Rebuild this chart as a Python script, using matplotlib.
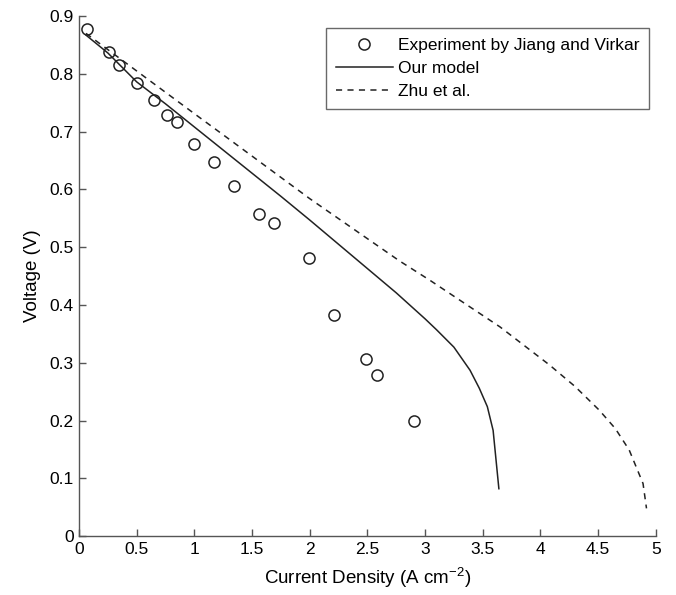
import numpy as np
import matplotlib
matplotlib.use("Agg")
import matplotlib.pyplot as plt

plt.rcParams['font.family'] = ['Liberation Sans', 'DejaVu Sans']

# experiment by Jiang and Virkar
exp_x = [0.07, 0.26, 0.35, 0.50, 0.65, 0.76, 0.85, 1.00, 1.17, 1.34, 1.56, 1.69, 1.99, 2.21, 2.49, 2.58, 2.90]
exp_y = [0.877, 0.838, 0.815, 0.785, 0.755, 0.728, 0.716, 0.679, 0.648, 0.606, 0.558, 0.542, 0.482, 0.382, 0.306, 0.278, 0.200]

# our model
model_x = [0.06, 0.25, 0.50, 0.75, 1.00, 1.25, 1.50, 1.75, 2.00, 2.25, 2.50, 2.75, 3.00, 3.10, 3.25, 3.39, 3.47, 3.54, 3.59, 3.64]
model_y = [0.867, 0.836, 0.786, 0.748, 0.708, 0.668, 0.628, 0.588, 0.547, 0.505, 0.463, 0.421, 0.376, 0.357, 0.327, 0.287, 0.256, 0.224, 0.183, 0.082]

# Zhu et al.
zhu_x = [0.06, 0.56, 1.00, 1.28, 2.00, 2.78, 3.04, 3.65, 4.08, 4.30, 4.51, 4.65, 4.77, 4.89, 4.92]
zhu_y = [0.870, 0.796, 0.731, 0.690, 0.584, 0.476, 0.443, 0.362, 0.296, 0.259, 0.218, 0.186, 0.149, 0.091, 0.048]

fig = plt.figure(figsize=(6.76, 5.95), dpi=100)
ax = fig.add_axes([0.117, 0.099, 0.853, 0.874])

ink = '#222222'
ax.plot(exp_x, exp_y, 'o', ls='none', mfc='white', mec=ink, ms=8, mew=1.1,
        label='Experiment by Jiang and Virkar')
ax.plot(model_x, model_y, '-', color=ink, lw=1.1, label='Our model')
ax.plot(zhu_x, zhu_y, '--', color=ink, lw=1.1, dashes=(4, 3.5), label='Zhu et al.')

ax.set_xlim(0, 5)
ax.set_ylim(0, 0.9)
ax.set_xticks(np.arange(0, 5.01, 0.5))
ax.set_xticklabels(['0', '0.5', '1', '1.5', '2', '2.5', '3', '3.5', '4', '4.5', '5'])
ax.set_yticks(np.arange(0, 0.91, 0.1))
ax.set_yticklabels(['0', '0.1', '0.2', '0.3', '0.4', '0.5', '0.6', '0.7', '0.8', '0.9'])

for s in ['top', 'right']:
    ax.spines[s].set_visible(False)
for s in ['left', 'bottom']:
    ax.spines[s].set_color('#555555')
    ax.spines[s].set_linewidth(1.0)
ax.tick_params(direction='in', length=5, width=1, color='#555555', labelsize=12.5, pad=4)

ax.set_xlabel('Current Density (A cm$\\mathregular{^{-2}}$)', fontsize=13.5, labelpad=7)
ax.set_ylabel('Voltage (V)', fontsize=13.5, labelpad=6)

leg = ax.legend(loc='upper right', bbox_to_anchor=(1.004, 0.993), fontsize=12.5, frameon=True,
                fancybox=False, edgecolor='#444444', handlelength=3.3, handletextpad=0.3,
                labelspacing=0.45, borderpad=0.55)
leg.get_frame().set_linewidth(1.0)

fig.savefig('out.png', dpi=100)
